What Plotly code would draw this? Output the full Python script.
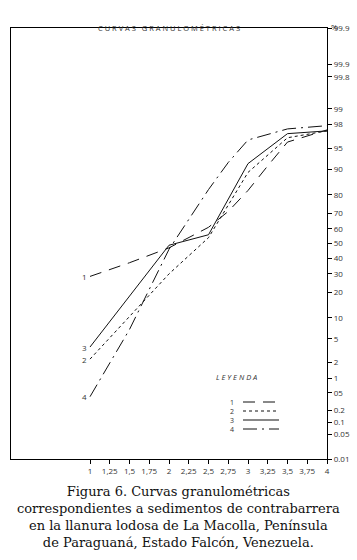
import plotly.graph_objects as go
from statistics import NormalDist

# ---------------- data ----------------
s1_phi = [1, 1.5, 2, 2.5, 2.75, 3, 3.25, 3.5, 4]
s1_pct = [28.5, 37, 47, 61, 71, 82, 91, 96.0, 97.5]

s2_phi = [1, 2, 2.5, 3, 3.5, 4]
s2_pct = [2.3, 30, 54, 89, 96.6, 97.4]

s3_phi = [1, 2, 2.5, 3, 3.5, 4]
s3_pct = [3.7, 48.8, 56, 91.6, 97.1, 97.4]

s4_phi = [1, 1.5, 2, 2.5, 2.75, 3, 3.5, 4]
s4_pct = [0.41, 6.9, 46, 82.4, 91.9, 96.3, 97.6, 97.9]

series_names = ["1", "2", "3", "4"]
series_dash = ["12px,8px", "dot", "solid", "14px,5px,2px,5px"]

x_tickvals = [1, 1.25, 1.5, 1.75, 2, 2.25, 2.5, 2.75, 3, 3.25, 3.5, 3.75, 4]
x_ticktext = ["1", "1,25", "1,5", "1,75", "2", "2,25", "2,5", "2,75", "3", "3,25", "3,5", "3,75", "4"]

y_tickpct = [0.01, 0.05, 0.1, 0.2, 0.5, 1, 2, 5, 10, 20, 30, 40, 50, 60, 70, 80, 90, 95, 98, 99, 99.8, 99.9, 99.99]
y_ticktext = ["0.01", "0.05", "0.1", "0.2", "05", "1", "2", "5", "10", "20", "30", "40", "50", "60", "70", "80",
              "90", "95", "98", "99", "99.8", "99.9", "99.9"]

nd = NormalDist()
def z(p):
    return nd.inv_cdf(p / 100.0)

TXT = "#333333"
FONT = "Open Sans"

fig = go.Figure()
all_series = [(s1_phi, s1_pct), (s2_phi, s2_pct), (s3_phi, s3_pct), (s4_phi, s4_pct)]
for (xs, ps), name, dash in zip(all_series, series_names, series_dash):
    fig.add_trace(go.Scatter(x=xs, y=[z(p) for p in ps], mode="lines", name=name,
                             line=dict(color="#111111", width=1, dash=dash), showlegend=False,
                             hoverinfo="skip"))
    # curve number label at the start
    fig.add_annotation(x=xs[0], y=z(ps[0]), text=name, showarrow=False, xanchor="right",
                       xshift=-1, font=dict(size=8, color=TXT, family=FONT))

ymin, ymax = z(0.01), z(99.99)

fig.update_xaxes(range=[0, 4], tickvals=x_tickvals, ticktext=x_ticktext, showline=True,
                 linecolor="black", linewidth=1.2, mirror=True, ticks="outside", ticklen=4,
                 tickcolor="black", showgrid=False, zeroline=False, automargin=False,
                 tickfont=dict(size=8, color=TXT, family=FONT))
fig.update_yaxes(range=[ymin, ymax], tickvals=[z(p) for p in y_tickpct], ticktext=y_ticktext,
                 side="right", showline=True, linecolor="black", linewidth=1.2, mirror=True,
                 ticks="outside", ticklen=4, tickcolor="black", showgrid=False, zeroline=False,
                 automargin=False, tickfont=dict(size=8, color=TXT, family=FONT))

# plot area in pixels: left 11, right 327, top 28, bottom 459
L, R, T, B = 11, 327, 28, 459
W, H = 357, 560
def px(xp):
    return (xp - L) / (R - L)
def py(yp):
    return (B - yp) / (B - T)

# title
fig.add_annotation(xref="paper", yref="paper", x=px(169), y=py(21), text="C U R V A S   G R A N U L O M É T R I C A S",
                   showarrow=False, font=dict(size=7.5, color=TXT, family=FONT))
# percent sign at top of axis
fig.add_annotation(xref="paper", yref="paper", x=px(340), y=py(19), text="%", showarrow=False,
                   font=dict(size=8, color=TXT, family=FONT))

# legend
fig.add_annotation(xref="paper", yref="paper", x=px(259), y=py(384), text="<i>L E Y E N D A</i>",
                   showarrow=False, font=dict(size=7.5, color=TXT, family=FONT))
leg_y = [402, 411, 420, 429]
for name, dash, ly in zip(series_names, series_dash, leg_y):
    fig.add_annotation(xref="paper", yref="paper", x=px(236), y=py(ly), text=name, showarrow=False,
                       xanchor="right", yanchor="middle", font=dict(size=7, color=TXT, family=FONT))
    fig.add_shape(type="line", xref="paper", yref="paper", x0=px(243), x1=px(279), y0=py(ly), y1=py(ly),
                  line=dict(color="#111111", width=1, dash=dash))

# caption
caption = ("Figura 6. Curvas granulométricas<br>correspondientes a sedimentos de contrabarrera<br>"
           "en la llanura lodosa de La Macolla, Península<br>de Paraguaná, Estado Falcón, Venezuela.")
fig.add_annotation(xref="paper", yref="paper", x=px(178), y=py(482), yanchor="top", text=caption,
                   showarrow=False, align="center",
                   font=dict(size=13, color="#111111", family="DejaVu Serif"))

fig.update_layout(width=W, height=H, margin=dict(l=L, r=W - R, t=T, b=H - B),
                  paper_bgcolor="white", plot_bgcolor="white")

fig.write_html("out.html", config={"displayModeBar": False},
               post_script="document.body.style.margin='0px';document.body.style.overflow='hidden';")
